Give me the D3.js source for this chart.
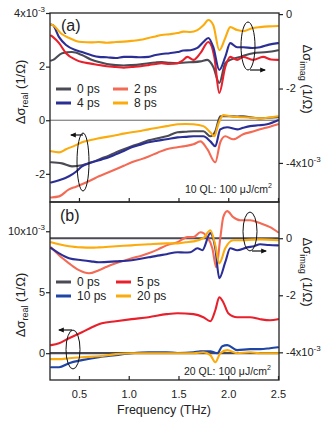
<!DOCTYPE html>
<html><head><meta charset="utf-8">
<script src="https://cdn.jsdelivr.net/npm/d3@7"></script>
<style>
body{margin:0;background:#fff;}
svg{font-family:"Liberation Sans",Arial,sans-serif;}
</style></head>
<body><svg id="c" width="327" height="421"></svg>
<script>
// Values in units of 1e-3 (1/Ohm); frequency in THz
const xTicks = [0.5, 1.0, 1.5, 2.0, 2.5];
const xTickLabels = ["0.5", "1.0", "1.5", "2.0", "2.5"];
const aLeftTicks = [4, 2, 0, -2];
const aRightTicks = [0, -2, -4];
const bLeftTicks = [10, 5, 0];
const bRightTicks = [0, -2, -4];

// Panel (a) imaginary part (right axis)
const aImag8 = [[0.22,-0.28],[0.24,-0.30],[0.32,-0.52],[0.40,-0.64],[0.47,-0.72],[0.53,-0.75],[0.62,-0.76],[0.70,-0.75],[0.78,-0.77],[0.87,-0.75],[0.95,-0.74],[1.03,-0.72],[1.12,-0.69],[1.20,-0.64],[1.27,-0.60],[1.33,-0.56],[1.41,-0.54],[1.49,-0.51],[1.55,-0.47],[1.62,-0.48],[1.69,-0.43],[1.75,-0.30],[1.80,-0.16],[1.85,-0.30],[1.91,-0.97],[1.97,-0.64],[2.02,-0.35],[2.09,-0.43],[2.15,-0.46],[2.24,-0.38],[2.32,-0.35],[2.41,-0.33],[2.50,-0.32]];
const aImag4 = [[0.22,-0.28],[0.24,-0.30],[0.30,-0.62],[0.37,-0.83],[0.47,-0.97],[0.53,-1.02],[0.62,-1.10],[0.70,-1.15],[0.78,-1.16],[0.87,-1.18],[0.95,-1.15],[1.03,-1.15],[1.12,-1.16],[1.20,-1.15],[1.27,-1.10],[1.33,-1.07],[1.41,-1.05],[1.49,-1.02],[1.55,-0.98],[1.62,-0.97],[1.69,-0.91],[1.75,-0.75],[1.80,-0.64],[1.85,-0.89],[1.91,-1.50],[1.97,-1.15],[2.02,-0.78],[2.09,-0.89],[2.15,-0.89],[2.24,-0.91],[2.32,-0.89],[2.41,-0.82],[2.50,-0.78]];
const aImag2 = [[0.22,-0.58],[0.24,-0.62],[0.30,-0.78],[0.37,-1.05],[0.47,-1.23],[0.53,-1.29],[0.62,-1.33],[0.70,-1.37],[0.78,-1.40],[0.87,-1.42],[0.95,-1.44],[1.03,-1.42],[1.12,-1.40],[1.20,-1.37],[1.27,-1.34],[1.33,-1.32],[1.41,-1.34],[1.49,-1.32],[1.54,-1.25],[1.59,-1.15],[1.65,-1.23],[1.72,-1.05],[1.80,-0.75],[1.86,-1.15],[1.91,-2.12],[1.97,-1.42],[2.02,-1.15],[2.09,-1.23],[2.15,-1.15],[2.25,-1.23],[2.35,-1.15],[2.43,-1.22],[2.50,-1.23]];
const aImag0 = [[0.22,-1.25],[0.24,-1.23],[0.33,-1.05],[0.43,-1.02],[0.53,-1.10],[0.62,-1.22],[0.70,-1.29],[0.78,-1.34],[0.87,-1.37],[0.95,-1.38],[1.03,-1.37],[1.12,-1.35],[1.20,-1.32],[1.27,-1.30],[1.33,-1.29],[1.41,-1.31],[1.49,-1.32],[1.57,-1.30],[1.65,-1.29],[1.72,-1.27],[1.79,-1.23],[1.85,-1.42],[1.91,-1.85],[1.97,-1.32],[2.02,-1.23],[2.12,-1.15],[2.25,-1.05],[2.39,-1.02],[2.50,-0.97]];

// Panel (a) real part (left axis)
const aReal8 = [[0.22,-1.16],[0.30,-1.20],[0.37,-1.08],[0.47,-0.93],[0.53,-0.82],[0.62,-0.74],[0.70,-0.67],[0.78,-0.62],[0.87,-0.56],[0.95,-0.50],[1.03,-0.45],[1.12,-0.40],[1.20,-0.34],[1.29,-0.28],[1.38,-0.22],[1.49,-0.15],[1.57,-0.14],[1.65,-0.15],[1.75,-0.22],[1.82,-0.45],[1.86,-0.60],[1.90,-0.15],[1.95,0.19],[2.02,0.15],[2.09,0.12],[2.15,0.11],[2.24,0.09],[2.32,0.07],[2.41,0.10],[2.50,0.15]];
const aReal4 = [[0.22,-2.32],[0.30,-2.24],[0.40,-2.09],[0.47,-1.92],[0.53,-1.72],[0.63,-1.57],[0.73,-1.46],[0.80,-1.38],[0.87,-1.27],[0.95,-1.15],[1.03,-1.01],[1.12,-0.91],[1.20,-0.82],[1.29,-0.76],[1.38,-0.71],[1.49,-0.64],[1.57,-0.62],[1.65,-0.60],[1.75,-0.60],[1.82,-0.79],[1.87,-0.97],[1.92,-0.34],[1.99,-0.26],[2.09,-0.34],[2.15,-0.28],[2.22,-0.22],[2.30,-0.19],[2.39,-0.15],[2.50,0.00]];
const aReal0 = [[0.22,-1.57],[0.33,-1.61],[0.43,-1.72],[0.53,-1.68],[0.63,-1.57],[0.73,-1.42],[0.80,-1.32],[0.87,-1.20],[0.95,-1.08],[1.03,-0.97],[1.12,-0.86],[1.20,-0.75],[1.29,-0.67],[1.38,-0.60],[1.49,-0.45],[1.57,-0.43],[1.65,-0.41],[1.75,-0.41],[1.82,-0.60],[1.87,-0.41],[1.92,0.15],[2.02,0.15],[2.09,0.14],[2.15,0.15],[2.24,0.10],[2.32,0.07],[2.41,0.09],[2.50,0.11]];
const aReal2 = [[0.22,-2.88],[0.30,-2.84],[0.40,-2.58],[0.47,-2.48],[0.53,-2.39],[0.62,-2.24],[0.70,-2.09],[0.78,-1.97],[0.87,-1.83],[0.95,-1.70],[1.03,-1.57],[1.12,-1.46],[1.20,-1.35],[1.29,-1.21],[1.38,-1.08],[1.49,-1.01],[1.57,-0.96],[1.65,-0.90],[1.72,-0.79],[1.79,-1.08],[1.87,-1.57],[1.92,-0.82],[1.97,-0.60],[2.05,-0.71],[2.15,-0.52],[2.24,-0.43],[2.32,-0.34],[2.41,-0.25],[2.50,-0.15]];

// Panel (b) imaginary part (right axis)
const bImag0 = [[0.21,0],[2.50,0]];
const bImag20 = [[0.22,-0.14],[0.30,-0.21],[0.40,-0.28],[0.53,-0.32],[0.62,-0.33],[0.70,-0.32],[0.87,-0.28],[1.03,-0.25],[1.20,-0.21],[1.38,-0.18],[1.49,-0.18],[1.57,-0.14],[1.65,-0.11],[1.75,0.00],[1.82,0.28],[1.87,-0.25],[1.91,-0.88],[1.97,-0.35],[2.05,-0.07],[2.15,-0.07],[2.24,-0.05],[2.32,-0.04],[2.50,-0.07]];
const bImag10 = [[0.22,-0.35],[0.30,-0.53],[0.40,-0.70],[0.53,-0.77],[0.62,-0.81],[0.70,-0.84],[0.87,-0.81],[1.03,-0.77],[1.12,-0.72],[1.20,-0.67],[1.29,-0.61],[1.38,-0.56],[1.49,-0.49],[1.56,-0.50],[1.62,-0.49],[1.69,-0.35],[1.74,-0.42],[1.82,0.18],[1.87,-0.35],[1.91,-1.40],[1.97,-0.84],[2.02,-0.35],[2.09,-0.42],[2.19,-0.32],[2.26,-0.28],[2.32,-0.21],[2.41,-0.24],[2.50,-0.25]];
const bImag5 = [[0.22,-0.32],[0.30,-0.60],[0.40,-0.88],[0.50,-1.12],[0.60,-1.23],[0.70,-1.12],[0.78,-1.00],[0.87,-0.88],[0.95,-0.79],[1.03,-0.70],[1.12,-0.62],[1.20,-0.53],[1.29,-0.40],[1.38,-0.25],[1.49,-0.14],[1.59,0.04],[1.65,0.04],[1.72,0.21],[1.79,0.04],[1.84,-0.35],[1.88,-1.02],[1.92,0.00],[1.95,0.74],[1.99,0.95],[2.05,0.74],[2.12,0.63],[2.22,0.63],[2.32,0.53],[2.42,0.39],[2.50,0.21]];

// Panel (b) real part (left axis)
const bReal0 = [[0.21,0],[2.50,0]];
const bReal5 = [[0.22,0.66],[0.30,0.82],[0.40,1.23],[0.53,1.72],[0.63,2.13],[0.73,2.46],[0.87,2.62],[1.03,2.79],[1.20,2.95],[1.38,3.20],[1.49,3.28],[1.65,3.20],[1.75,2.95],[1.82,2.62],[1.87,3.52],[1.91,4.59],[1.95,4.18],[2.00,3.28],[2.09,2.95],[2.22,2.95],[2.32,2.79],[2.42,2.70],[2.50,2.79]];
const bReal10 = [[0.22,-1.15],[0.30,-1.15],[0.40,-0.82],[0.53,-0.57],[0.70,-0.33],[0.87,-0.16],[1.03,0.00],[1.20,0.08],[1.38,0.08],[1.49,0.02],[1.65,0.08],[1.72,0.16],[1.82,0.16],[1.89,0.00],[1.94,0.57],[1.99,0.66],[2.09,0.25],[2.22,0.33],[2.32,0.33],[2.42,0.41],[2.50,0.49]];
const bReal20 = [[0.22,-0.49],[0.30,-0.49],[0.40,-0.41],[0.53,-0.33],[0.70,-0.25],[0.87,-0.08],[1.03,0.00],[1.20,0.00],[1.38,0.00],[1.49,0.00],[1.65,0.00],[1.75,0.08],[1.82,-0.16],[1.87,-0.74],[1.92,0.00],[1.99,0.25],[2.09,0.00],[2.22,0.08],[2.32,0.00],[2.50,0.00]];

const C = {black:"#4b4b55", blue:"#2b2f95", blueB:"#1f46a6", salmon:"#f36a55", red:"#e8202c", orange:"#fbab0c"};

const svg = d3.select("#c");
const X0 = 50, X1 = 279;
const x = d3.scaleLinear().domain([0.209, 2.51]).range([X0, X1]);

const pa = {top:13, bot:202, left:d3.scaleLinear().domain([-3.05,4.0]).range([202,13]), right:d3.scaleLinear().domain([-5.05,0.03]).range([202,13])};
const pb = {top:202, bot:380, left:d3.scaleLinear().domain([-2.2,12.4]).range([380,202]), right:d3.scaleLinear().domain([-4.97,1.27]).range([380,202])};

function drawLine(g, data, ys, color, w){
  const line = d3.line().x(d=>x(d[0])).y(d=>ys(d[1])).curve(d3.curveMonotoneX);
  g.append("path").datum(data).attr("d", line).attr("fill","none")
    .attr("stroke", color).attr("stroke-width", w||2.1).attr("stroke-linejoin","round").attr("stroke-linecap","round");
}

function sup(t, base, s){ t.text(base); t.append("tspan").attr("font-size","8px").attr("dy","-5").text(s); }

// Clip
const defs = svg.append("defs");
defs.append("clipPath").attr("id","ca").append("rect").attr("x",X0).attr("y",pa.top).attr("width",X1-X0).attr("height",pa.bot-pa.top);
defs.append("clipPath").attr("id","cb").append("rect").attr("x",X0).attr("y",pb.top).attr("width",X1-X0).attr("height",pb.bot-pb.top);

// Panel a
const ga = svg.append("g").attr("clip-path","url(#ca)");
ga.append("line").attr("x1",X0).attr("x2",X1).attr("y1",pa.left(0)).attr("y2",pa.left(0)).attr("stroke","#666").attr("stroke-width",1);
drawLine(ga, aImag0, pa.right, C.black);
drawLine(ga, aImag2, pa.right, C.red);
drawLine(ga, aImag4, pa.right, C.blue);
drawLine(ga, aImag8, pa.right, C.orange);
drawLine(ga, aReal0, pa.left, C.black);
drawLine(ga, aReal2, pa.left, C.salmon);
drawLine(ga, aReal4, pa.left, C.blue);
drawLine(ga, aReal8, pa.left, C.orange);

// Panel b
const gb = svg.append("g").attr("clip-path","url(#cb)");
drawLine(gb, bImag0, pb.right, C.black, 2.2);
drawLine(gb, bReal0, pb.left, C.black, 2.2);
drawLine(gb, bImag5, pb.right, C.salmon);
drawLine(gb, bImag10, pb.right, C.blue);
drawLine(gb, bImag20, pb.right, C.orange);
drawLine(gb, bReal5, pb.left, C.red);
drawLine(gb, bReal10, pb.left, C.blueB);
drawLine(gb, bReal20, pb.left, C.orange);

// Frames
[pa,pb].forEach(p=>{
  svg.append("rect").attr("x",X0).attr("y",p.top).attr("width",X1-X0).attr("height",p.bot-p.top)
    .attr("fill","none").attr("stroke","#222").attr("stroke-width",1.3);
});

// Axes
function yAxisLeft(p, ticks, fmt){
  const g = svg.append("g").attr("transform",`translate(${X0},0)`)
    .call(d3.axisLeft(p.left).tickValues(ticks).tickSize(4).tickFormat(""));
  g.select(".domain").remove();
  g.selectAll("line").attr("stroke","#222").attr("stroke-width",1.2);
  ticks.forEach(v=>{
    const t = svg.append("text").attr("x",X0-5).attr("y",p.left(v)).attr("dy","0.35em")
      .attr("text-anchor","end").attr("font-size","11px").attr("fill","#222");
    fmt(t, v);
  });
}
function yAxisRight(p, ticks, fmt){
  const g = svg.append("g").attr("transform",`translate(${X1},0)`)
    .call(d3.axisRight(p.right).tickValues(ticks).tickSize(4).tickFormat(""));
  g.select(".domain").remove();
  g.selectAll("line").attr("stroke","#222").attr("stroke-width",1.2);
  ticks.forEach(v=>{
    const t = svg.append("text").attr("x",X1+7).attr("y",p.right(v)).attr("dy","0.35em")
      .attr("text-anchor","start").attr("font-size","11px").attr("fill","#222");
    fmt(t, v);
  });
}
const lab = v => String(v);
yAxisLeft(pa, aLeftTicks, (t,v)=>{ if(v===4) sup(t,"4x10","-3"); else t.text(lab(v)); });
yAxisRight(pa, aRightTicks, (t,v)=>{ if(v===-4) sup(t,"-4x10","-3"); else t.text(lab(v)); });
yAxisLeft(pb, bLeftTicks, (t,v)=>{ if(v===10) sup(t,"10x10","-3"); else t.text(lab(v)); });
yAxisRight(pb, bRightTicks, (t,v)=>{ if(v===-4) sup(t,"-4x10","-3"); else t.text(lab(v)); });

// x ticks (inward at bottom of each panel)
[pa,pb].forEach(p=>{
  const g = svg.append("g").attr("transform",`translate(0,${p.bot})`)
    .call(d3.axisTop(x).tickValues(xTicks).tickSize(4).tickFormat(""));
  g.select(".domain").remove();
  g.selectAll("line").attr("stroke","#222").attr("stroke-width",1.2);
});
const gx = svg.append("g").attr("transform",`translate(0,${pb.bot})`)
  .call(d3.axisBottom(x).tickValues(xTicks).tickSize(0).tickPadding(10).tickFormat((d,i)=>xTickLabels[i]));
gx.select(".domain").remove();
gx.selectAll("text").attr("font-size","11px").attr("fill","#222").attr("font-family","Liberation Sans, Arial, sans-serif");

svg.append("text").attr("x",164).attr("y",414).attr("text-anchor","middle").attr("font-size","12.5px").attr("fill","#222").text("Frequency (THz)");

// Axis titles
function yTitle(cx, cy, rot, sub){
  const t = svg.append("text").attr("transform",`translate(${cx},${cy}) rotate(${rot})`)
    .attr("text-anchor","middle").attr("font-size","13px").attr("fill","#222");
  t.append("tspan").text("\u0394\u03c3");
  t.append("tspan").attr("font-size","9px").attr("dy","3").text(sub);
  t.append("tspan").attr("dy","-3").text(" (1/\u03a9)");
}
yTitle(25, 92, -90, "real");
yTitle(25, 305, -90, "real");
yTitle(303, 79, 90, "imag");
yTitle(303, 272, 90, "imag");

// Panel labels
svg.append("text").attr("x",61).attr("y",31).attr("font-size","16px").attr("fill","#222").text("(a)");
svg.append("text").attr("x",60).attr("y",221).attr("font-size","16px").attr("fill","#222").text("(b)");

// Legends
function legend(items){
  items.forEach(it=>{
    svg.append("line").attr("x1",it.x).attr("x2",it.x+15).attr("y1",it.y).attr("y2",it.y)
      .attr("stroke",it.c).attr("stroke-width",3);
    svg.append("text").attr("x",it.x+21).attr("y",it.y).attr("dy","0.35em").attr("font-size","12px").attr("fill","#222").text(it.t);
  });
}
legend([{x:56,y:89,c:C.black,t:"0 ps"},{x:56,y:103,c:C.blue,t:"4 ps"},{x:113,y:89,c:C.salmon,t:"2 ps"},{x:113,y:103,c:C.orange,t:"8 ps"}]);
legend([{x:56,y:282,c:C.black,t:"0 ps"},{x:56,y:296,c:C.blueB,t:"10 ps"},{x:116,y:282,c:C.red,t:"5 ps"},{x:116,y:296,c:C.orange,t:"20 ps"}]);

// Annotations
function note(xp, yp, s){
  const t = svg.append("text").attr("x",xp).attr("y",yp).attr("font-size","10.5px").attr("fill","#222");
  t.append("tspan").text(s+" QL: 100 \u03bcJ/cm");
  t.append("tspan").attr("font-size","7px").attr("dy","-5").text("2");
}
note(185, 193, "10");
note(184, 375, "20");

// Ellipses and arrows
defs.append("marker").attr("id","ah").attr("viewBox","0 0 10 10").attr("refX",8).attr("refY",5)
  .attr("markerWidth",5).attr("markerHeight",5).attr("orient","auto")
  .append("path").attr("d","M0,1 L10,5 L0,9 Z").attr("fill","#111");
function ell(cx,cy,rx,ry,ax1,ay,ax2){
  svg.append("ellipse").attr("cx",cx).attr("cy",cy).attr("rx",rx).attr("ry",ry).attr("fill","none").attr("stroke","#111").attr("stroke-width",1);
  svg.append("line").attr("x1",ax1).attr("y1",ay).attr("x2",ax2).attr("y2",ay).attr("stroke","#111").attr("stroke-width",1.2).attr("marker-end","url(#ah)");
}
ell(83,162,6,29, 83,135,71);
ell(248,46,7,24, 250,70,265);
ell(73,349.5,7,19.5, 72,330,59);
ell(250,231.5,7,19.5, 252,251,266);
</script></body></html>
